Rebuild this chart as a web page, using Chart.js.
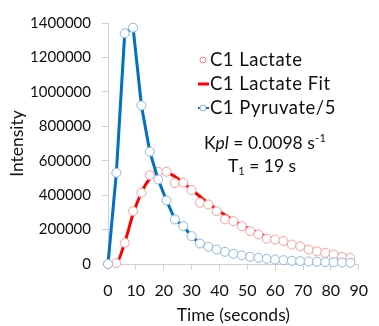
<!DOCTYPE html>
<html>
<head>
<meta charset="utf-8">
<script src="https://cdn.jsdelivr.net/npm/chart.js@4/dist/chart.umd.min.js"></script>
<style>
  html, body { margin: 0; padding: 0; background: #fff; }
  #wrap { width: 379px; height: 326px; position: relative; }
</style>
</head>
<body>
<div id="wrap"><canvas id="chart"></canvas></div>
<script>
// time points (s)
const times = [0, 3, 6, 9, 12, 15, 18, 21, 24, 27, 30, 33, 36, 39, 42, 45, 48, 51, 54, 57,
  60, 63, 66, 69, 72, 75, 78, 81, 84, 87];

// C1 lactate measured
const lactate = [0, 5000, 123000, 307000, 414000, 516000, 536000, 536000, 470000, 472000,
  430000, 356000, 346000, 307000, 259000, 249000, 220000, 191000, 172000, 147000,
  142000, 133000, 113000, 103000, 84000, 74000, 65000, 55000, 42000, 36000];

// C1 lactate fit
const lactateFit = [0, 5000, 125000, 290000, 415000, 495000, 530000, 530000, 508000, 472000,
  432000, 392000, 353000, 317000, 284000, 254000, 226000, 202000, 180000, 160000,
  143000, 127000, 113000, 100000, 89000, 79000, 69000, 59000, 51000, 44000];

// C1 pyruvate / 5
const pyruvate = [0, 530000, 1340000, 1373000, 921000, 652000, 491000, 369000, 259000, 220000,
  162000, 119000, 100000, 84000, 71000, 59000, 50000, 42000, 36000, 30000,
  26000, 22000, 19000, 17000, 15000, 13000, 11000, 10000, 9000, 7000];

const xTicks = [0, 10, 20, 30, 40, 50, 60, 70, 80, 90];
const yTicks = [0, 200000, 400000, 600000, 800000, 1000000, 1200000, 1400000];

const FONT = 'Lato, "Open Sans", sans-serif';
const TEXT = '#111111';
const AXIS = '#d0d0d0';

const pts = (vals) => times.map((t, i) => ({ x: t, y: vals[i] }));

// legend + annotation drawn inside the plot
const notes = {
  id: 'notes',
  afterDraw(chart) {
    const ctx = chart.ctx;
    ctx.save();
    ctx.fillStyle = TEXT;
    ctx.textBaseline = 'middle';
    ctx.textAlign = 'left';
    ctx.letterSpacing = '0.5px';
    ctx.font = '18.5px ' + FONT;

    // legend
    ctx.lineWidth = 1;
    ctx.strokeStyle = 'rgba(255,0,0,0.5)';
    ctx.beginPath(); ctx.arc(203, 60, 3, 0, Math.PI * 2); ctx.stroke();
    ctx.fillText('C1 Lactate', 210, 60);

    ctx.strokeStyle = '#ff0000';
    ctx.lineWidth = 3;
    ctx.beginPath(); ctx.moveTo(198, 84); ctx.lineTo(209, 84); ctx.stroke();
    ctx.fillText('C1 Lactate Fit', 210, 84);

    ctx.strokeStyle = '#0070c0';
    ctx.lineWidth = 2;
    ctx.beginPath(); ctx.moveTo(198, 108); ctx.lineTo(209, 108); ctx.stroke();
    ctx.fillStyle = '#fff';
    ctx.strokeStyle = '#8db6e0';
    ctx.lineWidth = 1;
    ctx.beginPath(); ctx.arc(203, 108, 3, 0, Math.PI * 2); ctx.fill(); ctx.stroke();
    ctx.fillStyle = TEXT;
    ctx.fillText('C1 Pyruvate/5', 210, 108);

    // Kpl annotation
    ctx.letterSpacing = '0px';
    let x = 204;
    const y1 = 143;
    ctx.font = '17.5px ' + FONT;
    ctx.fillText('K', x, y1); x += ctx.measureText('K').width;
    ctx.font = 'italic 17.5px ' + FONT;
    ctx.fillText('pl', x, y1); x += ctx.measureText('pl').width;
    ctx.font = '17.5px ' + FONT;
    ctx.fillText(' = 0.0098 s', x, y1); x += ctx.measureText(' = 0.0098 s').width;
    ctx.font = '11px ' + FONT;
    ctx.fillText('-1', x + 0.5, y1 - 5);

    // T1 annotation
    x = 228;
    const y2 = 166;
    ctx.font = '17.5px ' + FONT;
    ctx.fillText('T', x, y2); x += ctx.measureText('T').width;
    ctx.font = '11px ' + FONT;
    ctx.fillText('1', x, y2 + 5); x += ctx.measureText('1').width;
    ctx.font = '17.5px ' + FONT;
    ctx.fillText(' = 19 s', x, y2);
    ctx.restore();
  }
};

new Chart(document.getElementById('chart'), {
  type: 'line',
  data: {
    datasets: [
      {
        label: 'C1 Pyruvate/5',
        data: pts(pyruvate),
        borderColor: '#0070c0',
        borderWidth: 3,
        pointRadius: 4.5,
        pointBorderWidth: 1,
        pointBackgroundColor: '#ffffff',
        pointBorderColor: '#8db6e0',
        tension: 0,
        clip: false,
      },
      {
        label: 'C1 Lactate',
        data: pts(lactate),
        showLine: false,
        pointRadius: 4.5,
        pointBorderWidth: 1,
        pointBackgroundColor: '#ffffff',
        pointBorderColor: '#ff9c9c',
        clip: false,
      },
      {
        label: 'C1 Lactate Fit',
        data: pts(lactateFit),
        borderColor: '#ff0000',
        borderWidth: 3,
        pointRadius: 0,
        cubicInterpolationMode: 'monotone',
        clip: false,
      },
    ],
  },
  options: {
    responsive: true,
    maintainAspectRatio: false,
    animation: false,
    layout: { padding: { top: 23, right: 11, left: 0, bottom: 0 } },
    plugins: {
      legend: { display: false },
      tooltip: { enabled: false },
    },
    scales: {
      x: {
        type: 'linear',
        min: 0,
        max: 90,
        afterBuildTicks: (scale) => { scale.ticks = xTicks.map((v) => ({ value: v })); },
        afterFit: (scale) => { scale.height = 62; },
        border: { color: AXIS, width: 1 },
        grid: { drawOnChartArea: false, drawTicks: true, tickLength: 6, color: AXIS },
        ticks: { color: TEXT, font: { family: FONT, size: 16 }, padding: 11, maxRotation: 0 },
        title: {
          display: true,
          text: 'Time (seconds)',
          color: TEXT,
          font: { family: FONT, size: 17.5 },
          padding: { top: 0, bottom: 0 },
        },
      },
      y: {
        min: 0,
        max: 1400000,
        afterBuildTicks: (scale) => { scale.ticks = yTicks.map((v) => ({ value: v })); },
        afterFit: (scale) => { scale.width = 108; },
        border: { color: AXIS, width: 1 },
        grid: { drawOnChartArea: false, drawTicks: true, tickLength: 6, color: AXIS },
        ticks: {
          color: TEXT,
          font: { family: FONT, size: 15 },
          padding: 11,
          callback: (v) => String(v),
        },
        title: {
          display: true,
          text: 'Intensity',
          color: TEXT,
          font: { family: FONT, size: 17.5 },
          padding: { top: 7, bottom: 0 },
        },
      },
    },
  },
  plugins: [notes],
});
</script>
</body>
</html>
